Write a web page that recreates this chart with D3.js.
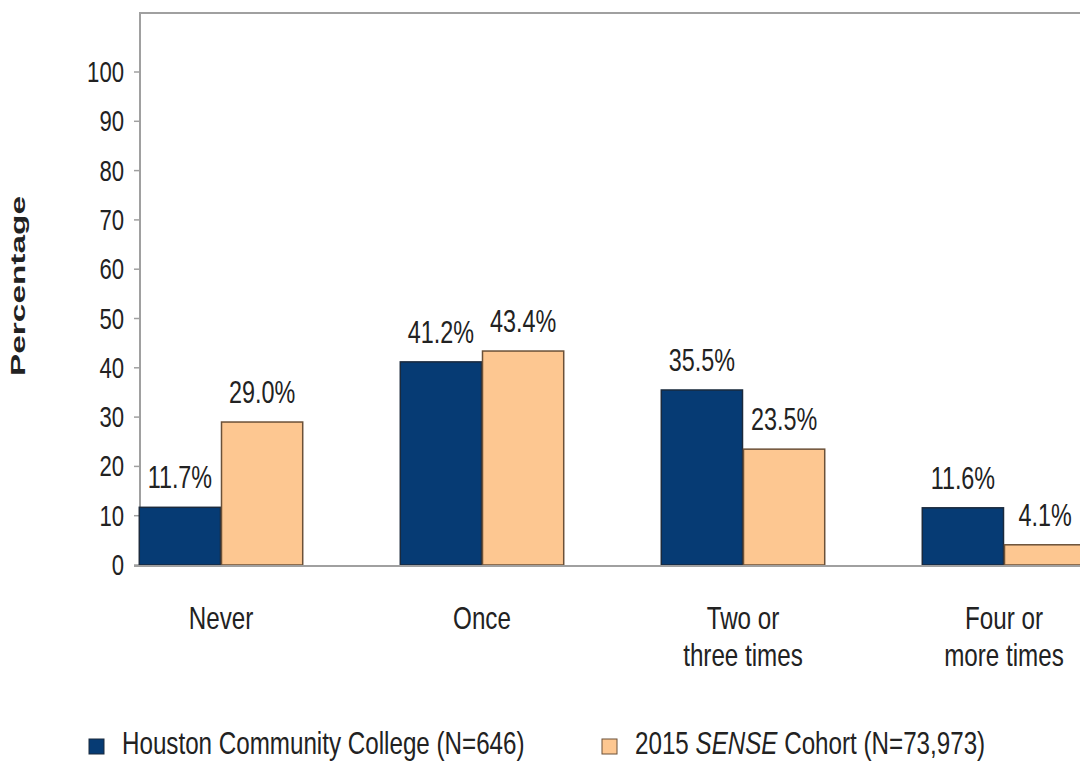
<!DOCTYPE html>
<html>
<head>
<meta charset="utf-8">
<script src="https://cdnjs.cloudflare.com/ajax/libs/d3/7.8.5/d3.min.js"></script>
<style>
  body { margin: 0; background: #fff; }
  svg { display: block; }
  .lbl { font-family: "Liberation Sans", Arial, sans-serif; fill: #222; }
</style>
</head>
<body>
<div id="chart"></div>
<script>
// data
var categories = ["Never", "Once", "Two or|three times", "Four or|more times"];
var series = ["Houston Community College (N=646)", "2015 SENSE Cohort (N=73,973)"];
var hccValues = [11.7, 41.2, 35.5, 11.6];
var senseValues = [29.0, 43.4, 23.5, 4.1];
var yTicks = [0, 10, 20, 30, 40, 50, 60, 70, 80, 90, 100];

var colors = ["#063b74", "#fdc791"];
var strokes = ["#1b2a3d", "#6b5138"];
var sx = 0.82, sy = 1.07; // fake tall "Arial Narrow"

var width = 1080, height = 761;
var svg = d3.select("#chart").append("svg")
  .attr("width", width).attr("height", height);

// text squeezed horizontally
function ntext(parent, x, y, size, anchor) {
  return parent.append("text").attr("class", "lbl")
    .attr("transform", "translate(" + x + "," + y + ") scale(" + sx + "," + sy + ")")
    .attr("font-size", size)
    .attr("text-anchor", anchor || "start");
}

var y = d3.scaleLinear().domain([0, 100]).range([565, 72]);
var x0 = d3.scaleBand().domain(categories)
  .range([90.5, 1134.5]).paddingInner(0.37).paddingOuter(0.185);
var x1 = d3.scaleBand().domain([0, 1]).range([0, x0.bandwidth()]);

// frame
svg.append("line").attr("x1", 140).attr("x2", width).attr("y1", 13).attr("y2", 13)
  .attr("stroke", "#a0a0a0").attr("stroke-width", 2);
svg.append("line").attr("x1", 140).attr("x2", 140).attr("y1", 12).attr("y2", 566)
  .attr("stroke", "#a0a0a0").attr("stroke-width", 2);

// y axis ticks + labels
var yAxis = svg.append("g");
yTicks.forEach(function(t) {
  yAxis.append("line").attr("x1", 134).attr("x2", 140).attr("y1", y(t)).attr("y2", y(t))
    .attr("stroke", "#a0a0a0").attr("stroke-width", 1.5);
  ntext(yAxis, 124, y(t) + 10, 27, "end").text(t);
});

// y title
svg.append("text")
  .attr("transform", "translate(25,286) rotate(-90)")
  .attr("text-anchor", "middle")
  .attr("font-family", "Liberation Sans, Arial, sans-serif")
  .attr("font-weight", "bold").attr("font-size", 20).attr("fill", "#222")
  .attr("textLength", 180).attr("lengthAdjust", "spacingAndGlyphs")
  .text("Percentage");

// bars
var groups = svg.selectAll(".grp").data(categories).enter().append("g")
  .attr("class", "grp")
  .attr("transform", function(d) { return "translate(" + x0(d) + ",0)"; });

[hccValues, senseValues].forEach(function(vals, s) {
  groups.append("rect")
    .attr("x", x1(s) + 0.5)
    .attr("y", function(d, i) { return y(vals[i]); })
    .attr("width", x1.bandwidth() - 1)
    .attr("height", function(d, i) { return y(0) - y(vals[i]); })
    .attr("fill", colors[s]).attr("stroke", strokes[s]).attr("stroke-width", 1.5);
  groups.each(function(d, i) {
    ntext(d3.select(this), x1(s) + x1.bandwidth() / 2, y(vals[i]) - 19, 28.5, "middle")
      .text(vals[i].toFixed(1) + "%");
  });
});

// baseline
svg.append("line").attr("x1", 134).attr("x2", width).attr("y1", 566).attr("y2", 566)
  .attr("stroke", "#a0a0a0").attr("stroke-width", 2);

// category labels
groups.each(function(d) {
  var t = ntext(d3.select(this), x0.bandwidth() / 2, 629, 29.5, "middle");
  d.split("|").forEach(function(line, k) {
    t.append("tspan").attr("x", 0).attr("y", k * 35).text(line);
  });
});

// legend
var legX = [89, 602];
series.forEach(function(name, s) {
  svg.append("rect").attr("x", legX[s]).attr("y", 739).attr("width", 15).attr("height", 15)
    .attr("fill", colors[s]).attr("stroke", strokes[s]).attr("stroke-width", 1);
  var t = ntext(svg, legX[s] + 33, 754, 29.5, "start");
  if (s === 1) {
    t.append("tspan").text("2015 ");
    t.append("tspan").attr("font-style", "italic").text("SENSE");
    t.append("tspan").text(" Cohort (N=73,973)");
  } else {
    t.text(name);
  }
});
</script>
</body>
</html>
